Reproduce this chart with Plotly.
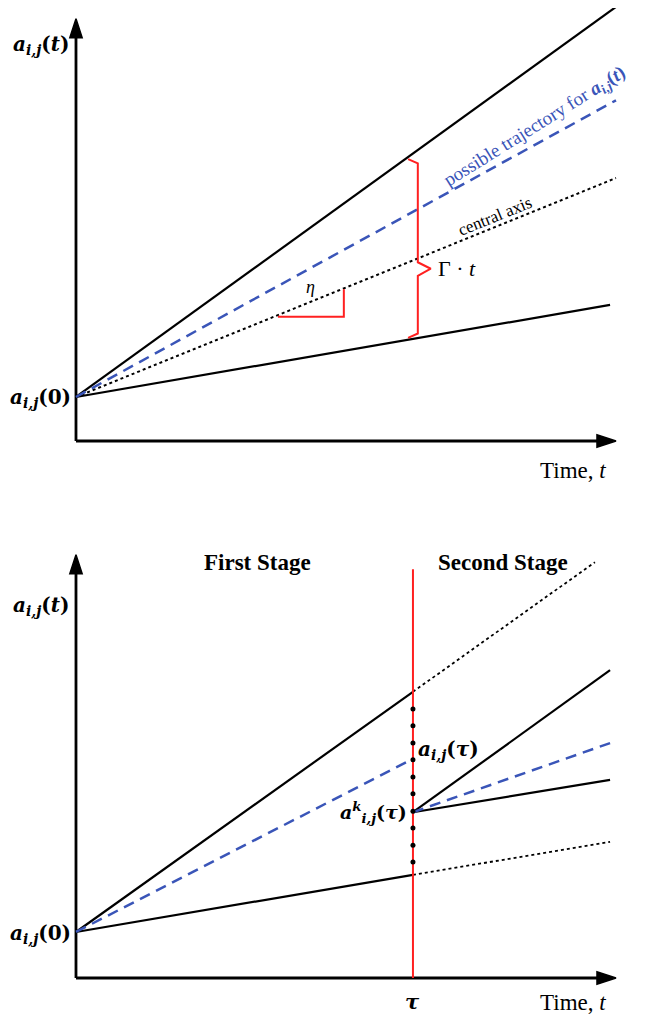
import plotly.graph_objects as go

# ---------------- data (t = time units, a = value units) ----------------
# Top panel
top_t = [0.0, 10.0]
top_upper_a = [0.815, 8.04]
top_lower_t = [0.0, 9.89]
top_lower_a = [0.815, 2.52]
top_central_a = [0.815, 4.87]
top_traj_a = [0.815, 6.31]
bracket_t = [6.15, 6.33, 6.33, 6.57, 6.33, 6.33, 6.15]
bracket_a = [5.22, 5.14, 3.31, 3.19, 3.06, 1.99, 1.91]
angle_t = [3.74, 4.96, 4.96]
angle_a = [2.30, 2.30, 2.81]

# Bottom panel
tau = 6.24
a0_bottom = 0.852
stage1_upper_a = [a0_bottom, 5.30]
stage1_lower_a = [a0_bottom, 1.91]
stage1_traj_a = [a0_bottom, 4.06]
ext_upper_t = [tau, 9.61]
ext_upper_a = [5.30, 7.70]
ext_lower_t = [tau, 9.89]
ext_lower_a = [1.91, 2.52]
ak_tau = 3.07
stage2_t = [tau, 9.89]
stage2_upper_a = [ak_tau, 5.70]
stage2_traj_a = [ak_tau, 4.35]
stage2_lower_a = [ak_tau, 3.67]
red_line_a = [0.0, 7.57]
dots_a = [4.98, 4.67, 4.35, 4.04, 3.72, 3.41, 3.09, 2.78, 2.46, 2.15]

x_axis_end = 10.0
y_axis_end_top = 7.82
y_axis_end_bottom = 7.84

BLACK = "#000000"
BLUE = "#3a55b8"
RED = "#ff2020"
SERIF = "Liberation Serif"
MATH = "DejaVu Serif"

fig = go.Figure()

def line(x, y, xa, ya, color=BLACK, width=2.2, dash="solid"):
    fig.add_trace(go.Scatter(x=x, y=y, xaxis=xa, yaxis=ya, mode="lines",
                             line=dict(color=color, width=width, dash=dash),
                             hoverinfo="skip", showlegend=False))

def axis_arrow(x, y, xa, ya):
    fig.add_trace(go.Scatter(x=x, y=y, xaxis=xa, yaxis=ya, mode="lines+markers",
                             line=dict(color=BLACK, width=2.8),
                             marker=dict(symbol="arrow", angleref="previous",
                                         size=[0, 20], color=BLACK, opacity=1,
                                         line=dict(color=BLACK, width=1.5)),
                             hoverinfo="skip", showlegend=False))

# ---- axes ----
axis_arrow([0, 0], [0, y_axis_end_top], "x", "y")
axis_arrow([0, x_axis_end], [0, 0], "x", "y")
axis_arrow([0, 0], [0, y_axis_end_bottom], "x2", "y2")
axis_arrow([0, x_axis_end], [0, 0], "x2", "y2")

# ---- top panel traces ----
line(top_t, top_upper_a, "x", "y")
line(top_lower_t, top_lower_a, "x", "y")
line(top_t, top_central_a, "x", "y", width=2, dash="dot")
line(top_t, top_traj_a, "x", "y", color=BLUE, width=2.5, dash="11px,7px")
line(bracket_t, bracket_a, "x", "y", color=RED, width=2)
line(angle_t, angle_a, "x", "y", color=RED, width=2)

# ---- bottom panel traces ----
line([0, tau], stage1_upper_a, "x2", "y2")
line([0, tau], stage1_lower_a, "x2", "y2")
line([0, tau], stage1_traj_a, "x2", "y2", color=BLUE, width=2.5, dash="11px,7px")
line(ext_upper_t, ext_upper_a, "x2", "y2", width=1.8, dash="dot")
line(ext_lower_t, ext_lower_a, "x2", "y2", width=1.8, dash="dot")
line([tau, tau], red_line_a, "x2", "y2", color=RED, width=2)
line(stage2_t, stage2_upper_a, "x2", "y2")
line(stage2_t, stage2_lower_a, "x2", "y2")
line(stage2_t, stage2_traj_a, "x2", "y2", color=BLUE, width=2.5, dash="11px,7px")
fig.add_trace(go.Scatter(x=[tau] * len(dots_a), y=dots_a, xaxis="x2", yaxis="y2",
                         mode="markers", marker=dict(color=BLACK, size=5),
                         hoverinfo="skip", showlegend=False))

annotations = []

def label(xr, yr, x, y, text, size=20, color=BLACK, xanchor="center", angle=0, family=SERIF):
    annotations.append(dict(xref=xr, yref=yr, x=x, y=y, text=text, showarrow=False,
                            xanchor=xanchor, yanchor="middle", textangle=angle,
                            font=dict(family=family, size=size, color=color)))

A_T = "<b><i>a</i></b><sub><b><i>i,j</i></b></sub><b>(<i>t</i>)</b>"
A_0 = "<b><i>a</i></b><sub><b><i>i,j</i></b></sub><b>(0)</b>"
A_TAU = "<b><i>a</i></b><sub><b><i>i,j</i></b></sub><b>(<i>τ</i>)</b>"
AK_TAU = "<b><i>a</i></b><sup><b><i>k</i></b></sup><sub><b><i>i,j</i></b></sub><b>(<i>τ</i>)</b>"

# top labels
label("x", "y", -0.1, 7.33, A_T, size=20, xanchor="right", family=MATH)
label("x", "y", -0.05, 0.8, A_0, size=20, xanchor="right", family=MATH)
label("x", "y", 9.2, -0.54, "Time, <i>t</i>", size=23)
label("x", "y", 4.35, 2.85, "<i>η</i>", size=18)
label("x", "y", 7.05, 3.2, "Γ · <i>t</i>", size=22)
label("x", "y", 8.5, 5.82, "possible trajectory for " + A_T, size=19, color=BLUE, angle=-32)
label("x", "y", 7.75, 4.16, "central axis", size=17, angle=-22)

# bottom labels
label("x2", "y2", -0.1, 6.88, A_T, size=20, xanchor="right", family=MATH)
label("x2", "y2", -0.05, 0.82, A_0, size=20, xanchor="right", family=MATH)
label("x2", "y2", 9.2, -0.46, "Time, <i>t</i>", size=23)
label("x2", "y2", tau, -0.43, "<b><i>τ</i></b>", size=21, family=MATH)
label("x2", "y2", 3.37, 7.7, "<b>First Stage</b>", size=23)
label("x2", "y2", 7.91, 7.7, "<b>Second Stage</b>", size=23)
label("x2", "y2", tau + 0.06, 4.22, A_TAU, size=20, xanchor="left", family=MATH)
label("x2", "y2", tau - 0.08, 3.07, AK_TAU, size=19, xanchor="right", family=MATH)

# The page body has an 8px margin, so the figure is 8px smaller and the
# ranges below place every mark at the same window position as the reference.
fig.update_layout(
    width=639, height=1018,
    margin=dict(l=0, r=0, t=0, b=0),
    paper_bgcolor="white", plot_bgcolor="white",
    showlegend=False,
    annotations=annotations,
    xaxis=dict(domain=[0, 1], range=[-1.259, 10.574], visible=False, anchor="y"),
    yaxis=dict(domain=[0.5167, 1.0], range=[-1.093, 8.019], visible=False, anchor="x"),
    xaxis2=dict(domain=[0, 1], range=[-1.259, 10.574], visible=False, anchor="y2"),
    yaxis2=dict(domain=[0.0, 0.5069], range=[-0.889, 8.667], visible=False, anchor="x2"),
)

fig.write_html("out.html")
